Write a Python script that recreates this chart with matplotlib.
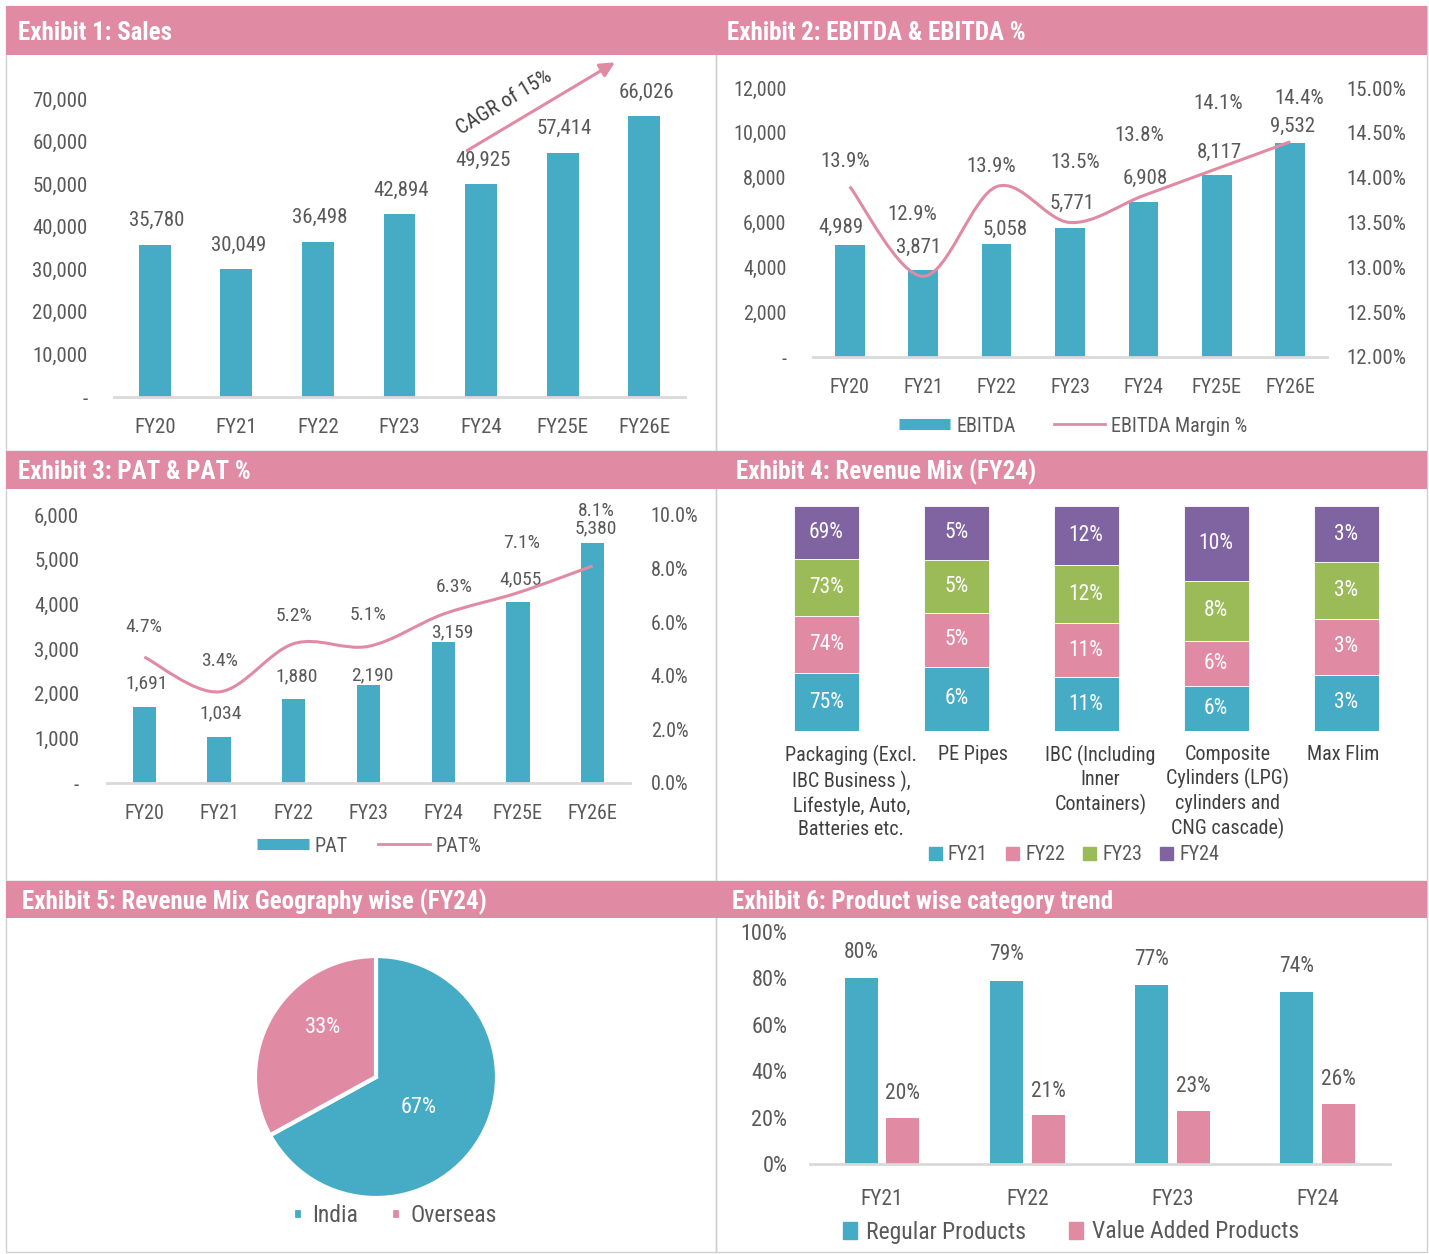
import matplotlib
matplotlib.use('Agg')
import matplotlib.pyplot as plt
import numpy as np
from matplotlib.patches import Rectangle, PathPatch, Patch
from matplotlib.path import Path
from matplotlib.lines import Line2D
from matplotlib.ticker import FuncFormatter

# ---------------- data ----------------
years = ['FY20', 'FY21', 'FY22', 'FY23', 'FY24', 'FY25E', 'FY26E']
sales = [35780, 30049, 36498, 42894, 49925, 57414, 66026]
ebitda = [4989, 3871, 5058, 5771, 6908, 8117, 9532]
ebitda_margin = [13.9, 12.9, 13.9, 13.5, 13.8, 14.1, 14.4]
pat = [1691, 1034, 1880, 2190, 3159, 4055, 5380]
pat_margin = [4.7, 3.4, 5.2, 5.1, 6.3, 7.1, 8.1]

mix_segments = ['Packaging (Excl.\nIBC Business ),\nLifestyle, Auto,\nBatteries etc.',
                'PE Pipes',
                'IBC (Including\nInner\nContainers)',
                'Composite\nCylinders (LPG)\ncylinders and\nCNG cascade)',
                'Max Flim']
mix_years = ['FY21', 'FY22', 'FY23', 'FY24']
mix_fy21 = [75, 6, 11, 6, 3]
mix_fy22 = [74, 5, 11, 6, 3]
mix_fy23 = [73, 5, 12, 8, 3]
mix_fy24 = [69, 5, 12, 10, 3]

geo_labels = ['India', 'Overseas']
geo_share = [67, 33]

prod_years = ['FY21', 'FY22', 'FY23', 'FY24']
regular = [80, 79, 77, 74]
value_added = [20, 21, 23, 26]
prod_series = ['Regular Products', 'Value Added Products']

# ---------------- style ----------------
W, H = 1429, 1254
plt.rcParams['font.family'] = ['Roboto Condensed', 'Liberation Sans Narrow', 'Roboto', 'DejaVu Sans']
TEAL = '#46ACC6'
PINK = '#E08AA3'
GREEN = '#9BBB59'
PURPLE = '#8064A2'
GREY = '#595959'
DARK = '#404040'
AXLINE = '#D9D9D9'
BORDER = '#D0D0D0'

fig = plt.figure(figsize=(W / 100, H / 100), dpi=100, facecolor='white')


def ax_at(x0, y0, x1, y1, **kw):
    return fig.add_axes([x0 / W, 1 - y1 / H, (x1 - x0) / W, (y1 - y0) / H], **kw)


def rect(x0, y0, x1, y1, **kw):
    fig.add_artist(Rectangle((x0 / W, 1 - y1 / H), (x1 - x0) / W, (y1 - y0) / H,
                             transform=fig.transFigure, **kw))


def header(x0, y0, x1, y1, title, tx):
    rect(x0, y0, x1, y1, facecolor=PINK, edgecolor='none')
    fig.text(tx / W, 1 - ((y0 + y1) / 2 + 2) / H, title, color='white', fontsize=18,
             fontweight='bold', ha='left', va='center')


def style(ax, size=15):
    for s in ['top', 'right', 'left']:
        ax.spines[s].set_visible(False)
    ax.spines['bottom'].set_color(AXLINE)
    ax.spines['bottom'].set_linewidth(2)
    ax.tick_params(length=0, colors=GREY, labelsize=size)
    ax.set_facecolor('none')


def smooth_path(xs, ys):
    pts = np.column_stack([xs, ys]).astype(float)
    n = len(pts)
    verts = [pts[0]]
    codes = [Path.MOVETO]
    for i in range(n - 1):
        p0 = pts[i - 1] if i > 0 else pts[i]
        p1 = pts[i]
        p2 = pts[i + 1]
        p3 = pts[i + 2] if i + 2 < n else pts[i + 1]
        verts += [p1 + (p2 - p0) / 6, p2 - (p3 - p1) / 6, p2]
        codes += [Path.CURVE4] * 3
    return Path(verts, codes)


thousands = FuncFormatter(lambda v, p: '-' if v == 0 else f'{v:,.0f}')

# panel borders
for (x0, y0, x1, y1) in [(6, 6, 716, 451), (716, 6, 1427, 451), (6, 451, 716, 881),
                         (716, 451, 1427, 881), (6, 881, 716, 1252), (716, 881, 1427, 1252)]:
    rect(x0, y0, x1, y1, facecolor='none', edgecolor=BORDER, linewidth=1)

header(6, 6, 716, 55, 'Exhibit 1: Sales', 18)
header(716, 6, 1427, 55, 'Exhibit 2: EBITDA & EBITDA %', 727)
header(6, 451, 716, 489, 'Exhibit 3: PAT & PAT %', 18)
header(716, 451, 1427, 489, 'Exhibit 4: Revenue Mix (FY24)', 736)
header(6, 881, 716, 918, 'Exhibit 5: Revenue Mix Geography wise (FY24)', 22)
header(716, 881, 1427, 918, 'Exhibit 6: Product wise category trend', 732)

x7 = np.arange(len(years))

# ---------------- Exhibit 1 ----------------
ax1 = ax_at(114, 56.4, 685, 397)
style(ax1, 15)
ax1.bar(x7, sales, width=0.39, color=TEAL)
ax1.set_xlim(-0.5, 6.5)
ax1.set_ylim(0, 80000)
ax1.set_yticks(np.arange(0, 70001, 10000))
ax1.yaxis.set_major_formatter(thousands)
ax1.set_xticks(x7, years)
ax1.tick_params(axis='y', pad=19)
ax1.tick_params(axis='x', pad=15)
for i, v in enumerate(sales):
    ax1.annotate(f'{v:,}', (i, v), xytext=(2, 24), textcoords='offset pixels',
                 ha='center', va='center', color=GREY, fontsize=15)
ax1.annotate('', xy=(5.67, 78930), xytext=(3.80, 57550),
             arrowprops=dict(arrowstyle='-|>', color=PINK, lw=2.2, mutation_scale=22),
             annotation_clip=False)
ax1.text(4.29, 69060, 'CAGR of 15%', rotation=31, ha='center', va='center',
         color=DARK, fontsize=15)

# ---------------- Exhibit 2 ----------------
eb_dx = [-9, -5, 9, 2, 2, 2, 2]
eb_dy = [18, 23, 14, 24, 24, 23, 17]
em_dx = [-5, -11, -5, 5, -4, 1, 9]
em_dy = [25, 62, 20, 60, 60, 65, 43]
ax2 = ax_at(813, 88, 1327, 357)
style(ax2, 14.5)
ax2.bar(x7, ebitda, width=0.405, color=TEAL)
ax2.set_xlim(-0.5, 6.5)
ax2.set_ylim(0, 12000)
ax2.set_yticks(np.arange(0, 12001, 2000))
ax2.yaxis.set_major_formatter(thousands)
ax2.set_xticks(x7, years)
ax2.tick_params(axis='y', pad=19)
ax2.tick_params(axis='x', pad=15)
ax2b = ax2.twinx()
for s in ax2b.spines.values():
    s.set_visible(False)
ax2b.set_ylim(12, 15)
ax2b.set_yticks(np.arange(12, 15.01, 0.5))
ax2b.yaxis.set_major_formatter(FuncFormatter(lambda v, p: f'{v:.2f}%'))
ax2b.tick_params(length=0, colors=GREY, labelsize=15, pad=14)
ax2b.add_patch(PathPatch(smooth_path(x7, ebitda_margin), facecolor='none',
                         edgecolor=PINK, lw=2.2, clip_on=False))
for i, v in enumerate(ebitda):
    ax2.annotate(f'{v:,}', (i, v), xytext=(eb_dx[i], eb_dy[i]), textcoords='offset pixels',
                 ha='center', va='center', color=GREY, fontsize=15)
for i, v in enumerate(ebitda_margin):
    ax2b.annotate(f'{v:.1f}%', (i, v), xytext=(em_dx[i], em_dy[i]), textcoords='offset pixels',
                  ha='center', va='center', color=GREY, fontsize=15)
fig.legend(handles=[Line2D([], [], color=TEAL, lw=8, solid_capstyle='butt'),
                    Line2D([], [], color=PINK, lw=2)],
           labels=['EBITDA', 'EBITDA Margin %'], loc='center',
           bbox_to_anchor=(1073 / W, 1 - 426 / H), frameon=False, ncol=2,
           handlelength=2.55, handletextpad=0.3, columnspacing=1.9,
           fontsize=14.5, labelcolor=GREY)

# ---------------- Exhibit 3 ----------------
pat_dx = [2, 2, 3, 4, 9, 3, 3]
pat_dy = [24, 23, 23, 10, 10, 23, 14]
pm_dx = [0, 0, 0, 0, 11, 4, 4]
pm_dy = [30, 31, 28, 31, 27, 50, 55]
ax3 = ax_at(107, 515, 630, 783)
style(ax3, 15)
ax3.bar(x7, pat, width=0.31, color=TEAL)
ax3.set_xlim(-0.5, 6.5)
ax3.set_ylim(0, 6000)
ax3.set_yticks(np.arange(0, 6001, 1000))
ax3.yaxis.set_major_formatter(thousands)
ax3.set_xticks(x7, years)
ax3.tick_params(axis='y', pad=20)
ax3.tick_params(axis='x', pad=15, labelsize=14.5)
ax3b = ax3.twinx()
for s in ax3b.spines.values():
    s.set_visible(False)
ax3b.set_ylim(0, 10)
ax3b.set_yticks(np.arange(0, 10.01, 2))
ax3b.yaxis.set_major_formatter(FuncFormatter(lambda v, p: f'{v:.1f}%'))
ax3b.tick_params(length=0, colors=GREY, labelsize=14.5, pad=15)
ax3b.add_patch(PathPatch(smooth_path(x7, pat_margin), facecolor='none',
                         edgecolor=PINK, lw=2.2, clip_on=False))
for i, v in enumerate(pat):
    ax3.annotate(f'{v:,}', (i, v), xytext=(pat_dx[i], pat_dy[i]), textcoords='offset pixels',
                 ha='center', va='center', color=GREY, fontsize=14)
for i, v in enumerate(pat_margin):
    ax3b.annotate(f'{v:.1f}%', (i, v), xytext=(pm_dx[i], pm_dy[i]), textcoords='offset pixels',
                  ha='center', va='center', color=GREY, fontsize=14)
fig.legend(handles=[Line2D([], [], color=TEAL, lw=8, solid_capstyle='butt'),
                    Line2D([], [], color=PINK, lw=2)],
           labels=['PAT', 'PAT%'], loc='center',
           bbox_to_anchor=(369 / W, 1 - 846 / H), frameon=False, ncol=2,
           handlelength=2.6, handletextpad=0.25, columnspacing=1.5,
           fontsize=14.5, labelcolor=GREY)

# ---------------- Exhibit 4 ----------------
mix_cols = [TEAL, PINK, GREEN, PURPLE]
mix_all = np.array([mix_fy21, mix_fy22, mix_fy23, mix_fy24], dtype=float)
totals = mix_all.sum(axis=0)
lbl_dx = [0.19, 0.13, 0.11, 0.09, -0.02]
ax4 = ax_at(761.5, 506, 1411, 731)
ax4.set_axis_off()
ax4.set_xlim(-0.5, 4.5)
ax4.set_ylim(0, 1)
x5 = np.arange(len(mix_segments))
bottom = np.zeros(len(mix_segments))
for k in range(4):
    frac = mix_all[k] / totals
    ax4.bar(x5, frac, bottom=bottom, width=0.5, color=mix_cols[k], edgecolor='white',
            linewidth=0.6, label=mix_years[k])
    for i in range(len(x5)):
        ax4.text(i, bottom[i] + frac[i] / 2, f'{mix_all[k][i]:.0f}%', ha='center',
                 va='center', color='white', fontsize=15.5)
    bottom += frac
for i, lab in enumerate(mix_segments):
    ax4.text(i + lbl_dx[i], -0.06, lab, transform=ax4.get_xaxis_transform(),
             ha='center', va='top', color=DARK, fontsize=14.5, linespacing=1.3)
fig.legend(handles=[Patch(color=c) for c in mix_cols], labels=mix_years, loc='center',
           bbox_to_anchor=(1074 / W, 1 - 855 / H), frameon=False, ncol=4,
           handlelength=0.65, handleheight=0.65, handletextpad=0.3, columnspacing=0.9,
           fontsize=14.5, labelcolor=GREY)

# ---------------- Exhibit 5 ----------------
pie_dist = [0.43, 0.6]
pie_shift = [-5, -12]
ax5 = ax_at(255, 956, 497, 1198)
wedges, texts, autotexts = ax5.pie(
    geo_share, colors=[TEAL, PINK], startangle=90, counterclock=False,
    wedgeprops=dict(edgecolor='white', linewidth=3),
    autopct=lambda p: f'{p:.0f}%', textprops=dict(color='white', fontsize=16))
for w, t, d, s in zip(wedges, autotexts, pie_dist, pie_shift):
    ang = np.deg2rad((w.theta1 + w.theta2) / 2 + s)
    t.set_position((d * np.cos(ang), d * np.sin(ang)))
ax5.set_xlim(-1, 1)
ax5.set_ylim(-1, 1)
fig.legend(handles=wedges, labels=geo_labels, loc='center',
           bbox_to_anchor=(395 / W, 1 - 1216 / H), frameon=False, ncol=2,
           handlelength=0.42, handleheight=0.42, handletextpad=0.4, columnspacing=1.4,
           fontsize=17, labelcolor=GREY)

# ---------------- Exhibit 6 ----------------
x4 = np.arange(len(prod_years))
ax6 = ax_at(809.5, 932, 1390, 1164)
style(ax6, 16)
ax6.bar(x4 - 0.144, regular, width=0.227, color=TEAL, label=prod_series[0])
ax6.bar(x4 + 0.144, value_added, width=0.227, color=PINK, label=prod_series[1])
ax6.set_xlim(-0.5, 3.5)
ax6.set_ylim(0, 100)
ax6.set_yticks(np.arange(0, 101, 20))
ax6.yaxis.set_major_formatter(FuncFormatter(lambda v, p: f'{v:.0f}%'))
ax6.set_xticks(x4, prod_years)
ax6.tick_params(axis='y', pad=16)
ax6.tick_params(axis='x', pad=18, labelsize=15.5)
for i in range(len(x4)):
    ax6.annotate(f'{regular[i]}%', (i - 0.144, regular[i]), xytext=(0, 26),
                 textcoords='offset pixels', ha='center', va='center', color=GREY, fontsize=15.5)
    ax6.annotate(f'{value_added[i]}%', (i + 0.144, value_added[i]), xytext=(0, 24),
                 textcoords='offset pixels', ha='center', va='center', color=GREY, fontsize=15.5)
fig.legend(handles=[Patch(color=TEAL), Patch(color=PINK)], labels=prod_series, loc='center',
           bbox_to_anchor=(1071 / W, 1 - 1232 / H), frameon=False, ncol=2,
           handlelength=0.6, handleheight=0.75, handletextpad=0.4, columnspacing=1.8,
           fontsize=17, labelcolor=GREY)

fig.savefig('out.png', dpi=100, facecolor='white')
